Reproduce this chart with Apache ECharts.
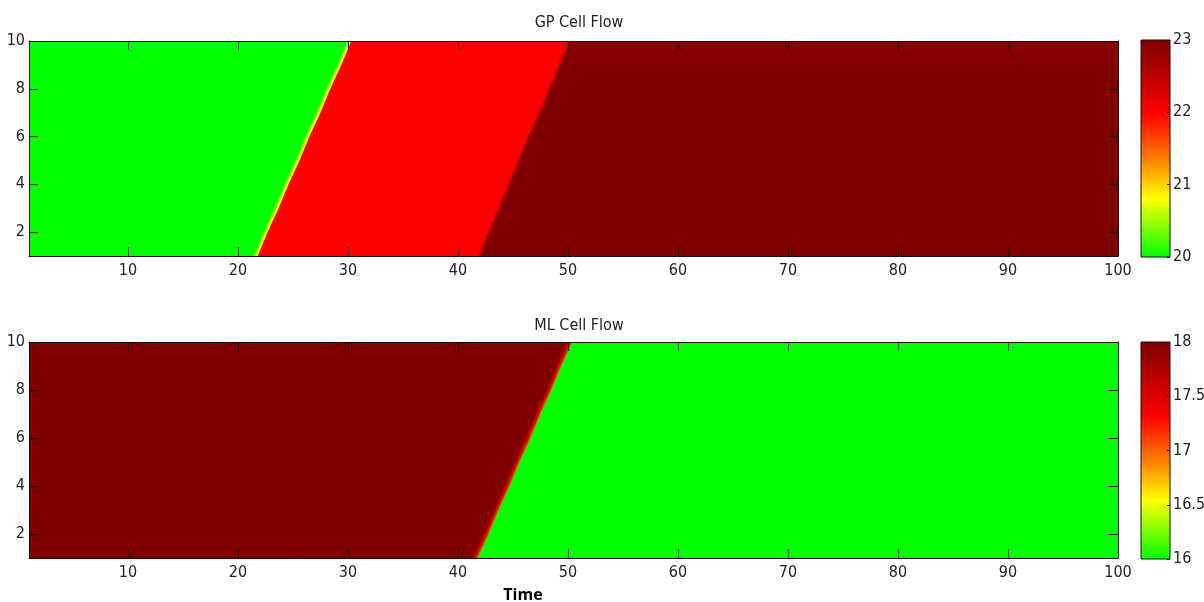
<!DOCTYPE html>
<html><head><meta charset="utf-8">
<script src="https://cdn.jsdelivr.net/npm/echarts@6/dist/echarts.min.js"></script>
<style>html,body{margin:0;padding:0;background:#fff}#c{width:1204px;height:602px}</style>
</head><body><div id="c"></div>
<script>
// ---------------- data ----------------
const timeRange = [1, 100];
const cellRange = [1, 10];
const cells = [1, 2, 3, 4, 5, 6, 7, 8, 9, 10];
const timeTicks = [10, 20, 30, 40, 50, 60, 70, 80, 90, 100];
const cellTicks = [2, 4, 6, 8, 10];

// GP cell flow: flow level in each regime (per cell 1..10)
const gpFlowFree = [20, 20, 20, 20, 20, 20, 20, 20, 20, 20];
const gpFlowMid = [22, 22, 22, 22, 22, 22, 22, 22, 22, 22];
const gpFlowHigh = [23, 23, 23, 23, 23, 23, 23, 23, 23, 22.9];
// time at which each cell switches regime
const gpSwitch1 = [21.8, 22.7, 23.7, 24.6, 25.6, 26.5, 27.5, 28.4, 29.4, 30.3];
const gpSwitch2 = [42.0, 42.9, 43.8, 44.7, 45.6, 46.5, 47.5, 48.4, 49.3, 50.2];
const gpColorRange = [20, 23];
const gpColorTicks = [20, 21, 22, 23];

// ML cell flow
const mlFlowBefore = [18, 18, 18, 18, 18, 18, 18, 18, 18, 18];
const mlFlowAfter = [16, 16, 16, 16, 16, 16, 16, 16, 16, 16];
const mlSwitch = [41.8, 42.8, 43.7, 44.7, 45.6, 46.6, 47.5, 48.5, 49.4, 50.4];
const mlColorRange = [16, 18];
const mlColorTicks = [16, 16.5, 17, 17.5, 18];

// colormap (green -> yellow -> orange -> red -> dark red)
const cmapPos = [0, 0.27, 0.45, 0.66, 1];
const cmapColors = ['#00ff00', '#ffff00', '#ff8000', '#ff0000', '#800000'];

// ---------------- helpers ----------------
function hex2rgb(h) { return [1, 3, 5].map(i => parseInt(h.substr(i, 2), 16)); }
const cmapRgb = cmapColors.map(hex2rgb);
function cmap(t) {
  t = Math.max(0, Math.min(1, t));
  for (let i = 0; i < cmapPos.length - 1; i++) {
    if (t <= cmapPos[i + 1]) {
      const f = (t - cmapPos[i]) / (cmapPos[i + 1] - cmapPos[i]);
      const a = cmapRgb[i], b = cmapRgb[i + 1];
      return 'rgb(' + a.map((v, j) => Math.round(v + (b[j] - v) * f)).join(',') + ')';
    }
  }
  return cmapColors[cmapColors.length - 1];
}

const FONT = "'Liberation Sans Narrow', 'Arial Narrow', 'DejaVu Sans Condensed', sans-serif";
const TXT = '#222';

function fieldSeries(idx, levels, switches, crange, bandHalves) {
  const norm = v => (v - crange[0]) / (crange[1] - crange[0]);
  return {
    type: 'custom', xAxisIndex: idx, yAxisIndex: idx, clip: true, silent: true, z: 2,
    data: levels.map((_, k) => [k]),
    renderItem: function (params, api) {
      const k = api.value(0);
      const n = cells.length;
      const left = k === 0 ? cells.map(() => timeRange[0]) : switches[k - 1];
      const right = k === levels.length - 1 ? cells.map(() => timeRange[1]) : switches[k];
      const pts = [];
      for (let i = 0; i < n; i++) pts.push(api.coord([left[i], cells[i]]));
      for (let i = n - 1; i >= 0; i--) pts.push(api.coord([right[i], cells[i]]));
      const stops = [];
      for (let i = n - 1; i >= 0; i--) {
        stops.push({ offset: (cellRange[1] - cells[i]) / (cellRange[1] - cellRange[0]), color: cmap(norm(levels[k][i])) });
      }
      const children = [{
        type: 'polygon', shape: { points: pts },
        style: { fill: { type: 'linear', x: 0, y: 0, x2: 0, y2: 1, colorStops: stops }, stroke: null }
      }];
      if (k < levels.length - 1) {
        const sw = switches[k];
        const h = bandHalves[k];
        for (let i = 0; i < n - 1; i++) {
          let p0 = api.coord([sw[i], cells[i]]);
          let p1 = api.coord([sw[i + 1], cells[i + 1]]);
          let dx = p1[0] - p0[0], dy = p1[1] - p0[1];
          const len = Math.hypot(dx, dy);
          dx /= len; dy /= len;
          const ext0 = i === 0 ? 20 : 1, ext1 = i === n - 2 ? 20 : 1;
          p0 = [p0[0] - dx * ext0, p0[1] - dy * ext0];
          p1 = [p1[0] + dx * ext1, p1[1] + dy * ext1];
          let nx = -dy, ny = dx;
          if (nx < 0) { nx = -nx; ny = -ny; }
          const quad = [
            [p0[0] - nx * h, p0[1] - ny * h], [p1[0] - nx * h, p1[1] - ny * h],
            [p1[0] + nx * h, p1[1] + ny * h], [p0[0] + nx * h, p0[1] + ny * h]
          ];
          const m = [(p0[0] + p1[0]) / 2, (p0[1] + p1[1]) / 2];
          const vL = (levels[k][i] + levels[k][i + 1]) / 2;
          const vR = (levels[k + 1][i] + levels[k + 1][i + 1]) / 2;
          const cs = [];
          for (let s = 0; s <= 12; s++) {
            cs.push({ offset: s / 12, color: cmap(norm(vL + (vR - vL) * s / 12)) });
          }
          children.push({
            type: 'polygon', shape: { points: quad },
            style: {
              fill: { type: 'linear', global: true, x: m[0] - nx * h, y: m[1] - ny * h, x2: m[0] + nx * h, y2: m[1] + ny * h, colorStops: cs },
              stroke: null
            }
          });
        }
      }
      return { type: 'group', children: children };
    }
  };
}

function colorbarSeries(idx) {
  return {
    type: 'custom', xAxisIndex: idx, yAxisIndex: idx, silent: true, z: 2,
    data: [[0]],
    renderItem: function (params, api) {
      const cs = params.coordSys;
      const stops = cmapPos.map((p, i) => ({ offset: 1 - p, color: cmapColors[i] })).reverse();
      return {
        type: 'rect', shape: { x: cs.x, y: cs.y, width: cs.width, height: cs.height },
        style: { fill: { type: 'linear', x: 0, y: 0, x2: 0, y2: 1, colorStops: stops }, stroke: '#111', lineWidth: 1 }
      };
    }
  };
}

function timeAxis(grid, pos, labels) {
  return {
    type: 'value', gridIndex: grid, position: pos, min: timeRange[0], max: timeRange[1], z: 5,
    axisLine: { show: true, onZero: false, lineStyle: { color: '#111', width: 1 } },
    axisTick: { show: true, inside: true, length: 9, customValues: timeTicks, lineStyle: { color: '#111' } },
    axisLabel: { show: labels, customValues: timeTicks, margin: 7, fontFamily: FONT, fontSize: 16, color: TXT },
    splitLine: { show: false }
  };
}
function cellAxis(grid, pos, labels) {
  return {
    type: 'value', gridIndex: grid, position: pos, min: cellRange[0], max: cellRange[1], z: 5,
    axisLine: { show: true, onZero: false, lineStyle: { color: '#111', width: 1 } },
    axisTick: { show: true, inside: true, length: 9, customValues: cellTicks, lineStyle: { color: '#111' } },
    axisLabel: { show: labels, customValues: cellTicks, margin: 4, fontFamily: FONT, fontSize: 16, color: TXT },
    splitLine: { show: false }
  };
}
function cbarY(grid, range, ticks) {
  return {
    type: 'value', gridIndex: grid, position: 'right', min: range[0], max: range[1], z: 5,
    axisLine: { show: false },
    axisTick: { show: true, inside: true, length: 3, customValues: ticks, lineStyle: { color: '#111' } },
    axisLabel: { show: true, customValues: ticks, margin: 3, fontFamily: FONT, fontSize: 16, color: TXT },
    splitLine: { show: false }
  };
}
function cbarX(grid) {
  return { type: 'category', gridIndex: grid, data: [''], show: false };
}

const chart = echarts.init(document.getElementById('c'), null, { renderer: 'canvas' });
chart.setOption({
  backgroundColor: '#ffffff',
  animation: false,
  title: [
    { text: 'GP Cell Flow', left: 574, top: 10, textAlign: 'center', textStyle: { fontFamily: FONT, fontSize: 16, fontWeight: 'normal', color: TXT } },
    { text: 'ML Cell Flow', left: 574, top: 313, textAlign: 'center', textStyle: { fontFamily: FONT, fontSize: 16, fontWeight: 'normal', color: TXT } },
    { text: 'Time', left: 518, top: 582, textAlign: 'center', textStyle: { fontFamily: "'Open Sans', 'Liberation Sans', sans-serif", fontSize: 16, fontWeight: 'bold', color: '#000' } }
  ],
  grid: [
    { left: 29, top: 41, width: 1089, height: 215, outerBoundsMode: 'none' },
    { left: 29, top: 342, width: 1089, height: 216, outerBoundsMode: 'none' },
    { left: 1141, top: 40, width: 29, height: 217, outerBoundsMode: 'none' },
    { left: 1141, top: 342, width: 29, height: 217, outerBoundsMode: 'none' }
  ],
  xAxis: [
    timeAxis(0, 'bottom', true), timeAxis(1, 'bottom', true),
    cbarX(2), cbarX(3),
    timeAxis(0, 'top', false), timeAxis(1, 'top', false)
  ],
  yAxis: [
    cellAxis(0, 'left', true), cellAxis(1, 'left', true),
    cbarY(2, gpColorRange, gpColorTicks), cbarY(3, mlColorRange, mlColorTicks),
    cellAxis(0, 'right', false), cellAxis(1, 'right', false)
  ],
  series: [
    fieldSeries(0, [gpFlowFree, gpFlowMid, gpFlowHigh], [gpSwitch1, gpSwitch2], gpColorRange, [4.5, 3]),
    fieldSeries(1, [mlFlowBefore, mlFlowAfter], [mlSwitch], mlColorRange, [5]),
    colorbarSeries(2),
    colorbarSeries(3)
  ]
});
</script>
</body></html>
